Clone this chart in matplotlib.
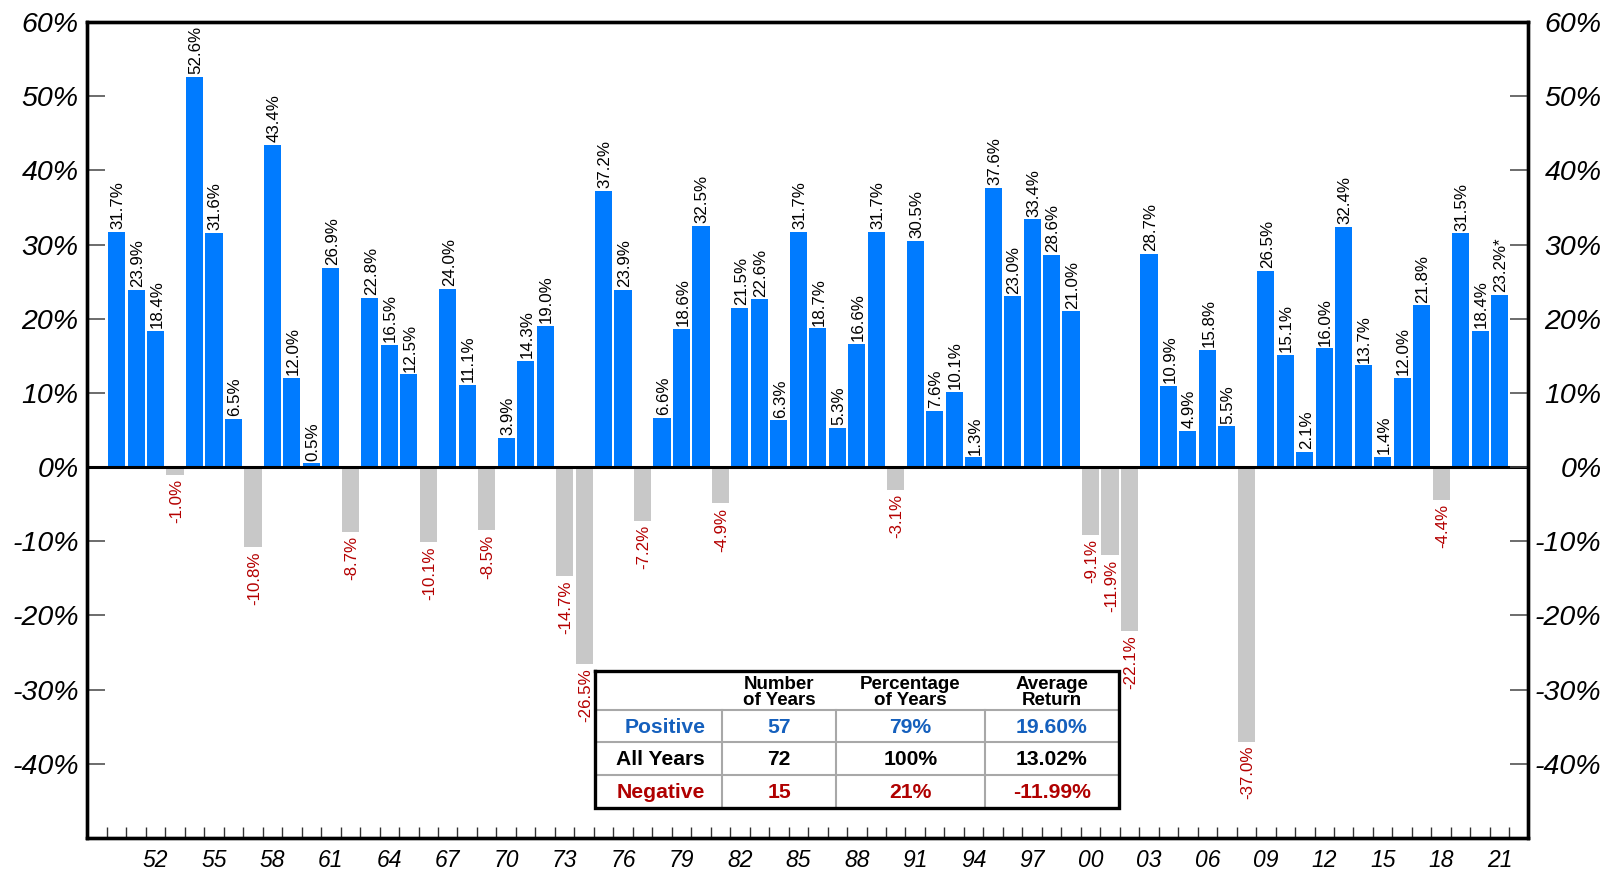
import numpy as np
import matplotlib
matplotlib.use("Agg")
import matplotlib.pyplot as plt

plt.rcParams['font.family'] = ['Liberation Sans', 'DejaVu Sans']

years = list(range(1950, 2022))
returns = [31.7, 23.9, 18.4, -1.0, 52.6, 31.6, 6.5, -10.8, 43.4, 12.0,
           0.5, 26.9, -8.7, 22.8, 16.5, 12.5, -10.1, 24.0, 11.1, -8.5,
           3.9, 14.3, 19.0, -14.7, -26.5, 37.2, 23.9, -7.2, 6.6, 18.6,
           32.5, -4.9, 21.5, 22.6, 6.3, 31.7, 18.7, 5.3, 16.6, 31.7,
           -3.1, 30.5, 7.6, 10.1, 1.3, 37.6, 23.0, 33.4, 28.6, 21.0,
           -9.1, -11.9, -22.1, 28.7, 10.9, 4.9, 15.8, 5.5, -37.0, 26.5,
           15.1, 2.1, 16.0, 32.4, 13.7, 1.4, 12.0, 21.8, -4.4, 31.5,
           18.4, 23.2]
label_years = list(range(1952, 2022, 3))
y_ticks = [-40, -30, -20, -10, 0, 10, 20, 30, 40, 50, 60]

table_header = ["", "Number\nof Years", "Percentage\nof Years", "Average\nReturn"]
table_rows = ["Positive", "All Years", "Negative"]
table_counts = ["57", "72", "15"]
table_pcts = ["79%", "100%", "21%"]
table_avgs = ["19.60%", "13.02%", "-11.99%"]
row_colors = ["#1560BD", "black", "#B00000"]

POS = "#007BFF"
NEG = "#C8C8C8"
NEG_TXT = "#B40000"

fig = plt.figure(figsize=(16.15, 8.72), dpi=100)
ax = fig.add_axes([87 / 1615, 1 - 838 / 872, (1528 - 87) / 1615, (838 - 22) / 872])

x = np.array(years)
r = np.array(returns)
colors = [POS if v >= 0 else NEG for v in r]
ax.bar(x, r, width=0.88, color=colors, zorder=2)
ax.axhline(0, color="black", lw=2.2, zorder=3)

for i, (yr, v) in enumerate(zip(years, returns)):
    txt = f"{v:.1f}%"
    if i == len(years) - 1:
        txt += "*"
    if v >= 0:
        ax.annotate(txt, (yr, v), xytext=(1, 2), textcoords="offset points",
                    rotation=90, ha="center", va="bottom", fontsize=12.2,
                    color="black", zorder=4)
    else:
        ax.annotate(txt, (yr, v), xytext=(1, -3), textcoords="offset points",
                    rotation=90, ha="center", va="top", fontsize=12.2,
                    color=NEG_TXT, zorder=4)

ax.set_xlim(1948.48, 2022.46)
ax.set_ylim(-50, 60)

# x axis
ax.set_xticks(label_years)
ax.set_xticklabels([f"{y % 100:02d}" for y in label_years], fontsize=16.5, style="italic")
ax.set_xticks(np.arange(1949.5, 2022, 1.0), minor=True)
ax.tick_params(axis="x", which="major", length=0, pad=8)
ax.tick_params(axis="x", which="minor", direction="in", length=8, width=1, color="#333333")

# y axes
ax.set_yticks(y_ticks)
ax.set_yticklabels([f"{t}%" for t in y_ticks], fontsize=20.5, style="italic")
ax.tick_params(axis="y", which="major", direction="in", length=13, width=1.1,
               color="#444444", pad=6)
ax2 = ax.twinx()
ax2.set_ylim(ax.get_ylim())
ax2.set_yticks(y_ticks)
ax2.set_yticklabels([f"{t}%" for t in y_ticks], fontsize=20.5, style="italic")
ax2.tick_params(axis="y", which="major", direction="in", length=13, width=1.1,
                color="#444444", pad=53)
for lab in ax2.get_yticklabels():
    lab.set_horizontalalignment("right")

for a in (ax, ax2):
    for s in a.spines.values():
        s.set_linewidth(2.4)
        s.set_color("black")

# summary table
tab = fig.add_axes([595 / 1615, 1 - 808 / 872, (1119 - 595) / 1615, (808 - 671) / 872])
tab.set_xlim(0, 1)
tab.set_ylim(1, 0)
tab.axis("off")
tab.add_patch(plt.Rectangle((0, 0), 1, 1, facecolor="white", edgecolor="none", zorder=0))
col_edges = [0, 0.2424, 0.46, 0.744, 1]
row_edges = [0, 0.285, 0.518, 0.759, 1]
for yy in row_edges[1:-1]:
    tab.plot([0, 1], [yy, yy], color="#A8A8A8", lw=1.5, zorder=1)
for xx in col_edges[1:-1]:
    tab.plot([xx, xx], [row_edges[1], 1], color="#A8A8A8", lw=1.5, zorder=1)
tab.plot([0, 1, 1, 0, 0], [0, 0, 1, 1, 0], color="black", lw=2.4, zorder=2,
         clip_on=False, solid_joinstyle="miter")

for j in range(1, 4):
    cx = (col_edges[j] + col_edges[j + 1]) / 2
    tab.text(cx, row_edges[1] / 2 + 0.015, table_header[j], ha="center", va="center",
             fontsize=13.5, fontweight="bold", linespacing=0.95)
for i in range(3):
    cy = (row_edges[i + 1] + row_edges[i + 2]) / 2 + 0.01
    c = row_colors[i]
    tab.text(col_edges[1] - 0.032, cy, table_rows[i], ha="right", va="center",
             fontsize=15.2, fontweight="bold", color=c)
    for j, val in enumerate([table_counts[i], table_pcts[i], table_avgs[i]]):
        cx = (col_edges[j + 1] + col_edges[j + 2]) / 2
        tab.text(cx, cy, val, ha="center", va="center", fontsize=15.2,
                 fontweight="bold", color=c)

fig.savefig("out.png", dpi=100)
